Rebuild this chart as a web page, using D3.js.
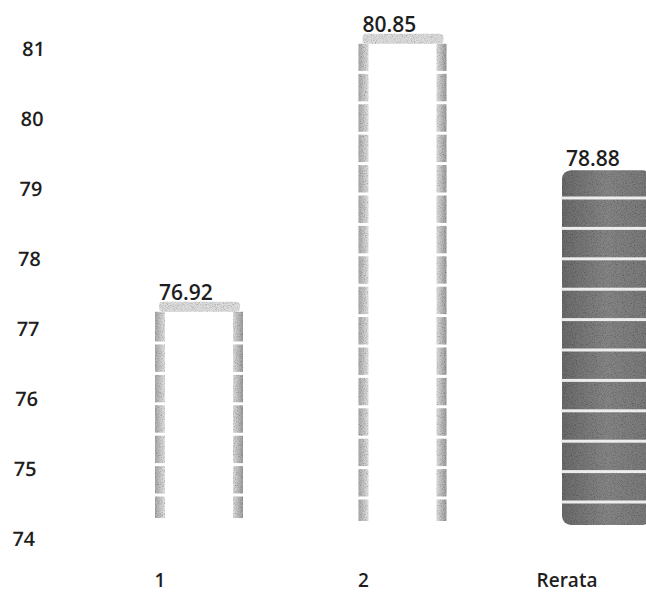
<!DOCTYPE html>
<html>
<head>
<meta charset="utf-8">
<script src="https://cdn.jsdelivr.net/npm/d3@7"></script>
<style>
  html, body { margin: 0; padding: 0; background: #fff; overflow: hidden; }
  text { font-family: "Open Sans", "Noto Sans", sans-serif; fill: #1e1e1e; }
</style>
</head>
<body>
<svg id="chart" width="646" height="595"></svg>
<script>
// ---- data ----
const categories = ["1", "2", "Rerata"];
const values = [76.92, 80.85, 78.88];
const valueLabels = ["76.92", "80.85", "78.88"];
const tickValues = [74, 75, 76, 77, 78, 79, 80, 81];

const svg = d3.select("#chart");

// scales
const x = d3.scaleBand()
  .domain(categories)
  .range([155, 155 + 3 * 203.5 - (203.5 - 89)])
  .paddingInner(1 - 89 / 203.5)
  .paddingOuter(0);

const y = d3.scaleLinear().domain([73.75, 81]).range([520, 520 - 7.25 * 68.2]);
const yAxisScale = d3.scaleLinear().domain([74, 81]).range([538, 48]);

// defs: grain filter
const defs = svg.append("defs");
const grain = defs.append("filter").attr("id", "grain").attr("x", 0).attr("y", 0).attr("width", 1).attr("height", 1);
grain.append("feTurbulence").attr("type", "fractalNoise").attr("baseFrequency", 0.9).attr("numOctaves", 2).attr("seed", 3).attr("result", "noise");
grain.append("feColorMatrix").attr("in", "noise").attr("type", "matrix")
  .attr("values", "0 0 0 0 0  0 0 0 0 0  0 0 0 0 0  0 0 0 -1.2 0.65").attr("result", "dark");
grain.append("feComposite").attr("in", "dark").attr("in2", "SourceGraphic").attr("operator", "in").attr("result", "darkIn");
grain.append("feMerge").selectAll("feMergeNode").data(["SourceGraphic", "darkIn"]).join("feMergeNode").attr("in", d => d);

const edgeGrad = defs.append("linearGradient").attr("id", "edgeL").attr("x1", 0).attr("x2", 1);
edgeGrad.append("stop").attr("offset", 0).attr("stop-color", "#a8a8a8");
edgeGrad.append("stop").attr("offset", 1).attr("stop-color", "#e2e2e2");
const edgeGradR = defs.append("linearGradient").attr("id", "edgeR").attr("x1", 0).attr("x2", 1);
edgeGradR.append("stop").attr("offset", 0).attr("stop-color", "#dedede");
edgeGradR.append("stop").attr("offset", 1).attr("stop-color", "#9c9c9c");
const darkGrad = defs.append("linearGradient").attr("id", "darkG").attr("x1", 0).attr("x2", 1);
darkGrad.append("stop").attr("offset", 0).attr("stop-color", "#6a6a6a");
darkGrad.append("stop").attr("offset", 0.5).attr("stop-color", "#858585");
darkGrad.append("stop").attr("offset", 1).attr("stop-color", "#777777");

// y axis (tick labels only), slightly slanted like the scan
const axisG = svg.append("g")
  .attr("transform", "translate(46,0) skewX(-1.15)")
  .call(d3.axisLeft(yAxisScale).tickValues(tickValues).tickSize(0).tickPadding(0).tickFormat(d3.format("d")));
axisG.select(".domain").remove();
axisG.selectAll("text")
  .attr("dy", "0.35em")
  .style("font-family", "'Open Sans', sans-serif")
  .style("font-size", "20px")
  .style("font-weight", "600")
  .attr("fill", "#222");

const bw = x.bandwidth();
const stripeStep = 30.4;

const data = categories.map((c, i) => ({ c, v: values[i], label: valueLabels[i], i }));

data.forEach(d => {
  const g = svg.append("g");
  const x0 = x(d.c);
  const top = y(d.v);
  const bottom = y.range()[0] + (d.i === 0 ? -2 : d.i === 1 ? 1 : 5);
  const h = bottom - top;
  if (d.c !== "Rerata") {
    // outline-style cylinder: top cap + shaded side edges
    g.append("rect").attr("x", x0 + 4).attr("y", top - 2).attr("width", bw - 8).attr("height", 10)
      .attr("rx", 4).attr("fill", "#dcdcdc").attr("filter", "url(#grain)");
    g.append("rect").attr("x", x0).attr("y", top + 8).attr("width", 10).attr("height", h - 8)
      .attr("fill", "url(#edgeL)").attr("filter", "url(#grain)");
    g.append("rect").attr("x", x0 + bw - 11).attr("y", top + 8).attr("width", 10).attr("height", h - 8)
      .attr("fill", "url(#edgeR)").attr("filter", "url(#grain)");
  } else {
    g.append("rect").attr("x", x0).attr("y", top).attr("width", bw).attr("height", h)
      .attr("rx", 9).attr("fill", "url(#darkG)").attr("filter", "url(#grain)");
  }
  // white horizontal stripes
  const stripes = [];
  for (let s = bottom - 23; s > top + 14; s -= stripeStep) stripes.push(s);
  g.selectAll("rect.stripe").data(stripes).join("rect")
    .attr("class", "stripe")
    .attr("x", x0 - 1).attr("y", s => s - 1.5).attr("width", bw + 2).attr("height", 3)
    .attr("fill", d.c === "Rerata" ? "#ededed" : "#ffffff");

  // value label
  svg.append("text").attr("x", x0 + 4).attr("y", top - 4)
    .style("font-size", "21px").style("font-weight", "600").text(d.label);
  // category label
  svg.append("text").attr("x", x0 + 5).attr("y", 587).attr("text-anchor", "middle")
    .style("font-size", "19px").style("font-weight", "600").text(d.c);
});
</script>
</body>
</html>
